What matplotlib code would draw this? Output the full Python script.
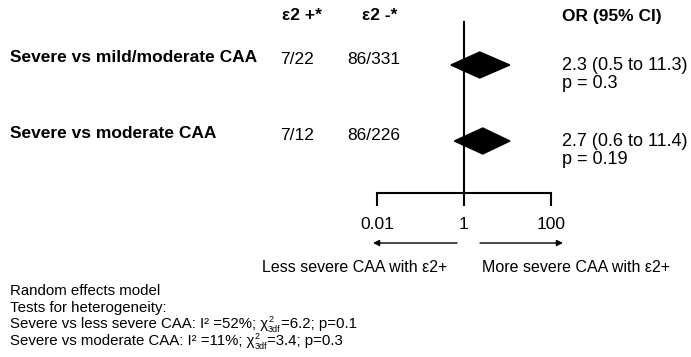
import matplotlib
matplotlib.use("Agg")
import matplotlib.pyplot as plt
import numpy as np

plt.rcParams['font.family'] = ['Liberation Sans', 'DejaVu Sans']

# dados
comparisons = ["Severe vs mild/moderate CAA", "Severe vs moderate CAA"]
e2_pos = ["7/22", "7/12"]
e2_neg = ["86/331", "86/226"]
or_vals = [2.3, 2.7]
ci_low = [0.5, 0.6]
ci_high = [11.3, 11.4]
p_vals = ["0.3", "0.19"]
x_ticks = [0.01, 1, 100]
x_ticklabels = ["0.01", "1", "100"]
het_names = ["Severe vs less severe CAA", "Severe vs moderate CAA"]
het_i2 = ["52%", "11%"]
het_chi2 = ["6.2", "3.4"]
het_p = ["0.1", "0.3"]

W, H = 691, 357
fig = plt.figure(figsize=(W / 100, H / 100), dpi=100)

# eixo de fundo em pixels (origem no topo) so para os textos
bg = fig.add_axes([0, 0, 1, 1])
bg.set_xlim(0, W)
bg.set_ylim(H, 0)
bg.axis("off")

# eixo do forest plot
x0, x1 = 377, 551
y_top, y_bot = 22, 193
fa = fig.add_axes([x0 / W, 1 - y_bot / H, (x1 - x0) / W, (y_bot - y_top) / H])
fa.patch.set_alpha(0)
fa.set_xscale("log")
fa.set_xlim(0.01, 100)
row_px = [65, 141]
step = row_px[1] - row_px[0]
fa.set_ylim((y_bot - row_px[0]) / step, (y_top - row_px[0]) / step)
for s in ["top", "left", "right"]:
    fa.spines[s].set_visible(False)
fa.spines["bottom"].set_linewidth(1.5)
fa.set_yticks([])
fa.set_xticks(x_ticks)
fa.set_xticklabels(x_ticklabels)
fa.minorticks_off()
fa.tick_params(axis="x", direction="out", length=9, width=1.5, pad=8, labelsize=12.5)
fa.axvline(1, color="black", lw=1.5, clip_on=False)

half_h = 13 / step
for i in range(len(or_vals)):
    xs = [ci_low[i], or_vals[i], ci_high[i], or_vals[i]]
    ys = [i, i - half_h, i, i + half_h]
    fa.fill(xs, ys, color="black", clip_on=False, zorder=3)

# cabecalhos
bold = dict(fontsize=12.5, fontweight="bold", va="center", ha="left")
bg.text(282, 16, "ε2 +*", **bold)
bg.text(362, 16, "ε2 -*", **bold)
bg.text(562, 16, "OR (95% CI)", **bold)

reg = dict(fontsize=12.5, va="center", ha="left")
lab_y = [58, 134]
for i, name in enumerate(comparisons):
    bg.text(10, lab_y[i], name, **bold)
    bg.text(280, lab_y[i] + 2, e2_pos[i], **reg)
    bg.text(347, lab_y[i] + 1, e2_neg[i], **reg)
    bg.text(562, row_px[i], f"{or_vals[i]} ({ci_low[i]} to {ci_high[i]})", fontsize=13, va="center", ha="left")
    bg.text(562, row_px[i] + 19, f"p = {p_vals[i]}", fontsize=13, va="center", ha="left")

# setas de direcao
arr = dict(arrowstyle="-|>", color="black", lw=1, mutation_scale=9, shrinkA=0, shrinkB=0)
bg.annotate("", xy=(373, 243), xytext=(457, 243), arrowprops=arr)
bg.annotate("", xy=(563, 243), xytext=(480, 243), arrowprops=arr)
bg.text(262, 267, "Less severe CAA with ε2+", fontsize=11.5, va="center", ha="left")
bg.text(482, 267, "More severe CAA with ε2+", fontsize=11.5, va="center", ha="left")

# notas de rodape (texto em pedacos para o chi2 com sobrescrito/subscrito)
fs = 10.8
fs_small = 6.5
bg.text(10, 295, "Random effects model", fontsize=fs, va="baseline")
bg.text(10, 312, "Tests for heterogeneity:", fontsize=fs, va="baseline")

renderer = fig.canvas.get_renderer()
def right_edge(t):
    return t.get_window_extent(renderer).x1

base_y = [328, 345]
for i in range(len(het_names)):
    by = base_y[i]
    t = bg.text(10, by, f"{het_names[i]}: I² ={het_i2[i]}; χ", fontsize=fs, va="baseline")
    xr = right_edge(t)
    t_sup = bg.text(xr, by - 6, "2", fontsize=fs_small, va="baseline")
    t_sub = bg.text(xr, by + 4, "3df", fontsize=fs_small, va="baseline")
    xr = max(right_edge(t_sup), right_edge(t_sub))
    bg.text(xr, by, f"={het_chi2[i]}; p={het_p[i]}", fontsize=fs, va="baseline")

fig.savefig("out.png", dpi=100)
